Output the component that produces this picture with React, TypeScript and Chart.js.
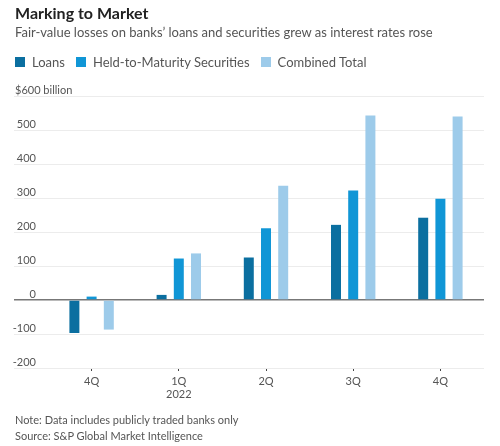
import React, { useEffect, useRef } from "react";
import { Chart, registerables } from "chart.js";

Chart.register(...registerables);

const categories: string[][] = [["4Q"], ["1Q", "2022"], ["2Q"], ["3Q"], ["4Q"]];
const loans: number[] = [-97, 15, 125, 221, 242];
const heldToMaturity: number[] = [10, 122, 211, 322, 298];
const combinedTotal: number[] = [-87, 137, 336, 543, 540];
const seriesNames: string[] = ["Loans", "Held-to-Maturity Securities", "Combined Total"];
const seriesColors: string[] = ["#0b6fa0", "#1096d6", "#9dcbea"];
const yTicks: number[] = [-200, -100, 0, 100, 200, 300, 400, 500, 600];
const yTopLabel = "$600 billion";

const FONT = "Lato, 'Noto Sans', sans-serif";

export default function App() {
  const ref = useRef<HTMLCanvasElement>(null);

  useEffect(() => {
    const canvas = ref.current;
    if (!canvas) return;
    const topLabelPlugin = {
      id: "topLabel",
      afterDraw(chart: any) {
        const y = chart.scales.y;
        const ctx = chart.ctx;
        ctx.save();
        ctx.font = `11px ${FONT}`;
        ctx.fillStyle = "#555";
        ctx.textAlign = "left";
        ctx.textBaseline = "middle";
        ctx.fillText(yTopLabel, 15, y.getPixelForValue(yTicks[yTicks.length - 1]) - 6);
        ctx.restore();
      },
    };
    const chart = new Chart(canvas, {
      type: "bar",
      data: {
        labels: categories,
        datasets: [loans, heldToMaturity, combinedTotal].map((d, i) => ({
          label: seriesNames[i],
          data: d,
          backgroundColor: seriesColors[i],
          categoryPercentage: 0.592,
          barPercentage: 0.58,
        })),
      },
      options: {
        animation: false,
        responsive: false,
        maintainAspectRatio: false,
        layout: { padding: { top: 96, left: 0, right: 16, bottom: 0 } },
        plugins: { legend: { display: false }, tooltip: { enabled: false } },
        scales: {
          x: {
            grid: {
              offset: false,
              drawOnChartArea: false,
              drawTicks: true,
              tickLength: 3,
              color: "#444",
            },
            border: { display: false },
            ticks: {
              color: "#555",
              font: { family: FONT, size: 11 },
              padding: 4,
              maxRotation: 0,
            },
            afterFit: (s: any) => {
              s.height = 78;
            },
          },
          y: {
            min: -200,
            max: 600,
            afterBuildTicks: (s: any) => {
              s.ticks = yTicks.map((v) => ({ value: v }));
            },
            afterFit: (s: any) => {
              s.width = 48;
            },
            border: { display: false },
            grid: {
              tickLength: 34,
              drawTicks: true,
              color: (c: any) => (c.tick && c.tick.value === 0 ? "#777" : "#ececec"),
              lineWidth: (c: any) => (c.tick && c.tick.value === 0 ? 1.5 : 1),
            },
            ticks: {
              color: "#555",
              font: { family: FONT, size: 11 },
              padding: -22,
              crossAlign: "near",
              labelOffset: -6,
              callback: (v: any) => (v === 600 ? "" : String(v)),
            },
          },
        },
      },
      plugins: [topLabelPlugin],
    });
    return () => chart.destroy();
  }, []);

  return (
    <div style={{ position: "absolute", left: 0, top: 0, width: 500, height: 446, background: "#fff", fontFamily: FONT, overflow: "hidden" }}>
      <canvas ref={ref} width={500} height={446} style={{ position: "absolute", left: 0, top: 0, width: 500, height: 446 }} />
      <div style={{ position: "absolute", left: 15, top: 3, fontSize: 16, fontWeight: 700, color: "#222", whiteSpace: "nowrap" }}>
        Marking to Market
      </div>
      <div style={{ position: "absolute", left: 15, top: 24, fontSize: 13, color: "#555", whiteSpace: "nowrap" }}>
        Fair-value losses on banks’ loans and securities grew as interest rates rose
      </div>
      <div style={{ position: "absolute", left: 15, top: 54, fontSize: 13, color: "#555", display: "flex", alignItems: "center", whiteSpace: "nowrap" }}>
        {seriesNames.map((n, i) => (
          <span key={n} style={{ display: "flex", alignItems: "center", marginRight: 11 }}>
            <span style={{ display: "inline-block", width: 10, height: 10, background: seriesColors[i], marginRight: 7 }} />
            {n}
          </span>
        ))}
      </div>
      <div style={{ position: "absolute", left: 15, top: 412, fontSize: 11, color: "#555", whiteSpace: "nowrap", lineHeight: "16px" }}>
        <div>Note: Data includes publicly traded banks only</div>
        <div>Source: S&amp;P Global Market Intelligence</div>
      </div>
    </div>
  );
}
